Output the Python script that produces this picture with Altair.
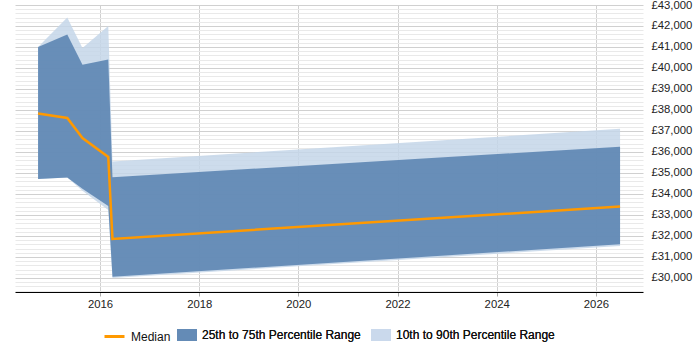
import altair as alt
import pandas as pd

# Salary percentiles over time
dates = ["2014-10-02", "2015-05-05", "2015-08-25", "2016-03-02", "2016-04-02", "2026-06-28"]
p10 = [34710, 34780, 34150, 33240, 30000, 31520]
p25 = [34710, 34780, 34250, 33430, 30060, 31600]
median = [37830, 37620, 36660, 35760, 31860, 33400]
p75 = [41000, 41600, 40150, 40400, 34800, 36250]
p90 = [41000, 42400, 40950, 42000, 35550, 37100]

x_tick_years = [2016, 2018, 2020, 2022, 2024, 2026]
y_domain = [29330, 43000]
y_grid = list(range(29400, 43001, 200))

label_median = "Median"
label_iqr = "25th to 75th Percentile Range"
label_outer = "10th to 90th Percentile Range"

df = pd.DataFrame({
    "date": dates, "p10": p10, "p25": p25, "median": median, "p75": p75, "p90": p90,
})

FONT = "Liberation Sans"

x_enc = alt.X(
    "date:T",
    title=None,
    scale=alt.Scale(
        type="utc",
        domain=[alt.DateTime(year=2014, month=4, date=15, utc=True),
                alt.DateTime(year=2026, month=12, date=14, utc=True)],
    ),
    axis=alt.Axis(
        values=[alt.DateTime(year=y, month=1, date=1, utc=True) for y in x_tick_years],
        labelExpr="utcFormat(datum.value, '%Y')",
        domainColor="#000000",
        domainWidth=1,
        tickColor="#aaaaaa",
        tickSize=4,
        labelPadding=2,
        labelFontSize=11.3,
        labelColor="#222222",
        gridColor="#d0d0d0",
        labelFont=FONT,
    ),
)

y_axis = alt.Axis(
    orient="right",
    values=y_grid,
    labelExpr="datum.value % 1000 === 0 ? '£' + format(datum.value, ',') : ''",
    gridColor={"condition": {"test": "datum.value % 1000 === 0", "value": "#d0d0d0"},
               "value": "#e9e9e9"},
    domain=False,
    ticks=False,
    labelPadding=8,
    labelOverlap=False,
    labelBound=False,
    labelFontSize=11.3,
    labelColor="#222222",
    labelFont=FONT,
)
y_scale = alt.Scale(domain=y_domain, nice=False, zero=False)

fill_scale = alt.Scale(domain=[label_iqr, label_outer], range=["#5680af", "#c4d6e9"])
fill_legend = alt.Legend(
    orient="none", legendX=162, legendY=320, direction="horizontal", title=None,
    symbolType="M-1,-0.6H1V0.6H-1Z", symbolSize=400, symbolOpacity=0.7,
    symbolStrokeWidth=0, labelFontSize=12, labelOffset=5, columnPadding=10,
    padding=0, labelColor="#111111", labelFont=FONT,
)

base = alt.Chart(df).encode(x=x_enc)

outer = base.transform_calculate(band=f"'{label_outer}'").mark_area(opacity=0.85).encode(
    y=alt.Y("p10:Q", scale=y_scale, axis=y_axis, title=None),
    y2="p90:Q",
    fill=alt.Fill("band:N", scale=fill_scale, legend=fill_legend),
)

inner = base.transform_calculate(band=f"'{label_iqr}'").mark_area(opacity=0.85).encode(
    y=alt.Y("p25:Q", scale=y_scale, axis=y_axis, title=None),
    y2="p75:Q",
    fill=alt.Fill("band:N", scale=fill_scale, legend=fill_legend),
)

line = base.transform_calculate(series=f"'{label_median}'").mark_line(strokeWidth=2.5).encode(
    y=alt.Y("median:Q", scale=y_scale, axis=y_axis, title=None),
    stroke=alt.Stroke(
        "series:N",
        scale=alt.Scale(domain=[label_median], range=["#ff9900"]),
        legend=alt.Legend(
            orient="none", legendX=88, legendY=320, title=None,
            symbolType="stroke", symbolSize=400, symbolStrokeWidth=3,
            labelFontSize=12, labelOffset=5, padding=0,
            labelColor="#111111", labelFont=FONT,
        ),
    ),
)

chart = alt.layer(outer, inner, line).resolve_legend(fill="independent").properties(
    width=628,
    height=287,
    padding={"left": 15, "top": 5, "right": 57, "bottom": 58},
    autosize=alt.AutoSizeParams(type="none"),
).configure(font=FONT, view=alt.ViewConfig(stroke=None))

chart.save("out.html", embed_options={"renderer": "svg", "actions": False})
